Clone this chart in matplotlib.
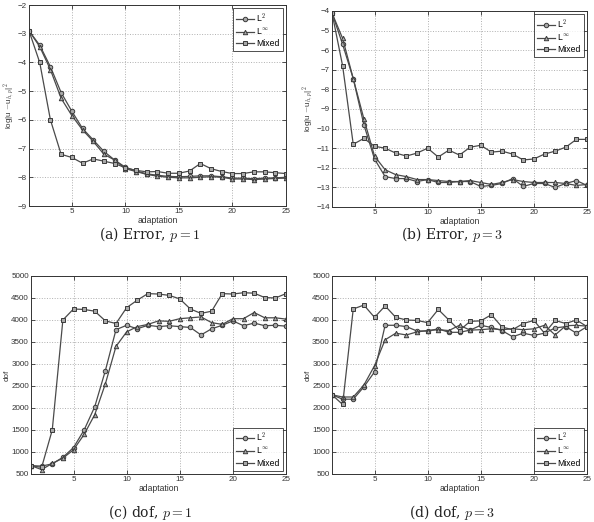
import matplotlib
matplotlib.use("Agg")
import matplotlib.pyplot as plt
import numpy as np

plt.rcParams['mathtext.fontset'] = 'cm'
plt.rcParams['font.family'] = ['Liberation Sans', 'DejaVu Sans']

x = list(range(1, 26))

# (a) Error, p=1
err1_L2 = [-2.9, -3.4, -4.15, -5.05, -5.7, -6.3, -6.7, -7.1, -7.4, -7.65, -7.78, -7.88, -7.93, -7.97, -7.98,
           -7.97, -7.95, -7.95, -7.98, -8.03, -8.03, -8.05, -8.03, -8.02, -8.0]
err1_Linf = [-2.9, -3.45, -4.25, -5.25, -5.85, -6.35, -6.75, -7.2, -7.4, -7.7, -7.8, -7.9, -7.96, -8.0, -8.02,
             -8.02, -8.0, -7.98, -8.0, -8.06, -8.06, -8.08, -8.06, -8.04, -8.03]
err1_Mix = [-2.9, -4.0, -6.0, -7.2, -7.31, -7.51, -7.36, -7.44, -7.52, -7.67, -7.76, -7.81, -7.8, -7.86, -7.86,
            -7.78, -7.52, -7.7, -7.8, -7.87, -7.87, -7.81, -7.81, -7.84, -7.87]

# (b) Error, p=3
err3_L2 = [-4.1, -5.7, -7.45, -9.8, -11.55, -12.45, -12.55, -12.55, -12.7, -12.6, -12.75, -12.75, -12.7, -12.7,
           -12.95, -12.9, -12.8, -12.55, -12.95, -12.8, -12.8, -13.0, -12.8, -12.65, -12.9]
err3_Linf = [-4.1, -5.4, -7.45, -9.5, -11.4, -12.1, -12.35, -12.45, -12.6, -12.6, -12.65, -12.7, -12.7, -12.65,
             -12.75, -12.85, -12.75, -12.6, -12.7, -12.75, -12.75, -12.75, -12.8, -12.9, -12.85]
err3_Mix = [-4.1, -6.8, -10.8, -10.5, -10.9, -11.0, -11.25, -11.4, -11.25, -11.0, -11.45, -11.1, -11.35, -10.95,
            -10.85, -11.2, -11.15, -11.3, -11.6, -11.55, -11.3, -11.15, -10.95, -10.55, -10.55]

# (c) dof, p=1
dof1_L2 = [690, 680, 730, 880, 1100, 1500, 2030, 2850, 3780, 3880, 3800, 3880, 3850, 3870, 3850,
           3830, 3660, 3800, 3880, 3980, 3870, 3930, 3870, 3880, 3860]
dof1_Linf = [690, 600, 740, 860, 1050, 1400, 1850, 2550, 3400, 3730, 3850, 3900, 3980, 3970, 4030,
             4050, 4070, 3940, 3900, 4030, 4030, 4170, 4050, 4050, 4020]
dof1_Mix = [690, 650, 1500, 4000, 4250, 4240, 4200, 3980, 3920, 4280, 4450, 4600, 4590, 4560, 4480,
            4250, 4150, 4200, 4600, 4590, 4620, 4610, 4510, 4500, 4600]

# (d) dof, p=3
dof3_L2 = [2300, 2200, 2200, 2480, 2820, 3880, 3880, 3850, 3750, 3750, 3800, 3720, 3720, 3770, 3880,
           3830, 3760, 3620, 3700, 3650, 3700, 3820, 3850, 3700, 3850]
dof3_Linf = [2300, 2250, 2250, 2520, 2960, 3550, 3700, 3660, 3730, 3760, 3780, 3760, 3880, 3770, 3780,
             3800, 3780, 3800, 3780, 3800, 3880, 3660, 3870, 3880, 3860]
dof3_Mix = [2300, 2080, 4250, 4340, 4060, 4320, 4060, 4000, 3990, 3940, 4240, 4000, 3760, 3970, 3980,
            4120, 3840, 3780, 3920, 3990, 3700, 3990, 3920, 4000, 3850]

labels = [r'L$^2$', r'L$^\infty$', 'Mixed']
markers = ['o', '^', 's']

fig = plt.figure(figsize=(5.94, 5.22), dpi=100)
W, H = 594.0, 522.0

def mkax(l, r, t, b):
    return fig.add_axes([l / W, 1 - b / H, (r - l) / W, (b - t) / H])

panels = [
    (mkax(29, 286, 5, 206), [err1_L2, err1_Linf, err1_Mix], (-9, -2), list(range(-9, -1)),
     r'log|u $-$u$_{h,p}$|$^2$', 'upper right', r'(a) Error, $p = 1$', 150, 235),
    (mkax(332, 587, 11, 207), [err3_L2, err3_Linf, err3_Mix], (-14, -4), list(range(-14, -3)),
     r'log|u $-$u$_{h,p}$|$^2$', 'upper right', r'(b) Error, $p = 3$', 452, 235),
    (mkax(31, 286, 276, 474), [dof1_L2, dof1_Linf, dof1_Mix], (500, 5000), list(range(500, 5001, 500)),
     'dof', 'lower right', r'(c) dof, $p = 1$', 150, 513),
    (mkax(332, 587, 276, 474), [dof3_L2, dof3_Linf, dof3_Mix], (500, 5000), list(range(500, 5001, 500)),
     'dof', 'lower right', r'(d) dof, $p = 3$', 452, 513),
]

for i, (ax, series, ylim, yt, ylab, loc, cap, cx, cy) in enumerate(panels):
    for s, lab, m in zip(series, labels, markers):
        ax.plot(x, s, color='#4a4a4a', lw=0.9, marker=m, ms=3.2, mfc='#a8a8a8', mec='#3a3a3a',
                mew=0.7, label=lab)
    ax.set_xlim(1, 25)
    ax.set_ylim(*ylim)
    ax.set_xticks([5, 10, 15, 20, 25])
    ax.set_yticks(yt)
    ax.grid(True, linestyle=':', color='#b0b0b0', lw=0.7)
    ax.tick_params(direction='in', labelsize=5.8, length=3, width=0.6, top=True, right=True,
                   pad=1.5, colors='#333333')
    for sp in ax.spines.values():
        sp.set_linewidth(0.7)
        sp.set_color('#333333')
    ax.set_xlabel('adaptation', fontsize=6.2, labelpad=0.5, color='#333333')
    ax.set_ylabel(ylab, fontsize=5.8, labelpad=0.5, color='#333333')
    leg = ax.legend(loc=loc, fontsize=6.2, frameon=True, fancybox=False, edgecolor='#222222',
                    handlelength=2.0, borderpad=0.35, labelspacing=0.25, handletextpad=0.3,
                    borderaxespad=0.4)
    leg.get_frame().set_linewidth(0.7)
    fig.text(cx / W, 1 - cy / H, cap, ha='center', va='center', fontsize=10,
             family='DejaVu Serif', color='#222222')

fig.savefig('out.png', dpi=100, facecolor='white')
